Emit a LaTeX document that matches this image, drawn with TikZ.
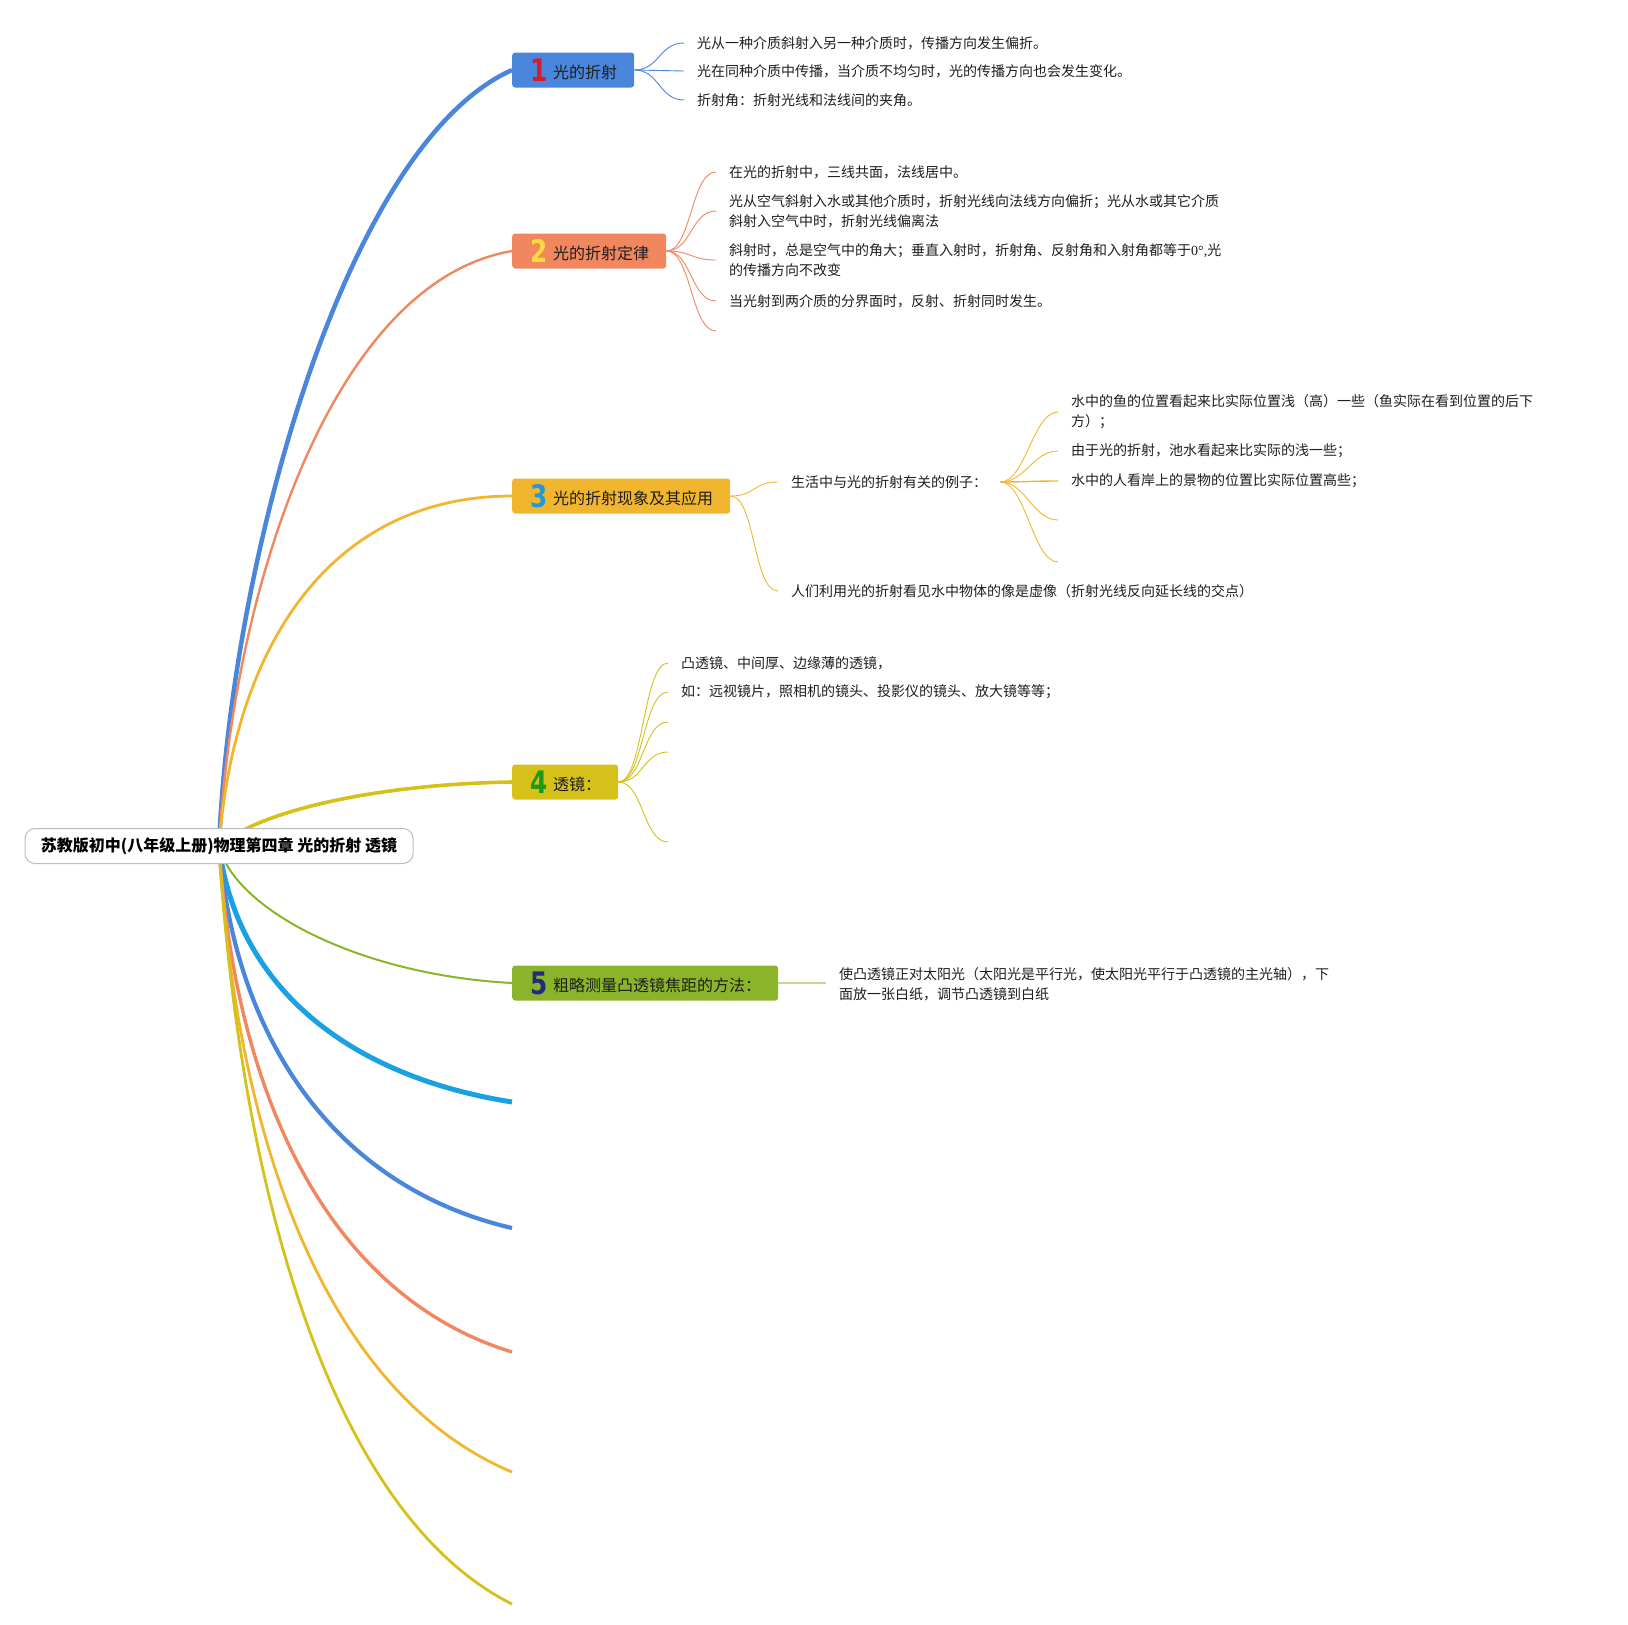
\documentclass[tikz,border=0pt]{standalone}
\usepackage{fontspec}
\setmainfont{Noto Sans CJK SC}
\newfontfamily\numfont{DejaVu Sans}[FakeStretch=0.8]
\newfontfamily\serifpart{Liberation Serif}
\usetikzlibrary{backgrounds}
\definecolor{cBlue}{HTML}{4A86DC}
\definecolor{cSalmon}{HTML}{F0875F}
\definecolor{cOrange}{HTML}{F2B52E}
\definecolor{cOlive}{HTML}{D5C11A}
\definecolor{cGreen}{HTML}{8AB42A}
\definecolor{cCyan}{HTML}{1AA1E2}
\definecolor{cLightGreen}{HTML}{C2D996}
\definecolor{nRed}{HTML}{D81B2C}
\definecolor{nYellow}{HTML}{F7DA3E}
\definecolor{nBlue}{HTML}{2299D8}
\definecolor{nGreen}{HTML}{1A9A1A}
\definecolor{nNavy}{HTML}{232C7A}
\definecolor{txt}{HTML}{1E1E1E}
\definecolor{rootline}{HTML}{BDBDBD}
% number + label inside a main box
\newcommand\boxlabel[3]{\makebox[41pt][l]{\hspace{18pt}\textcolor{#1}{\numfont\bfseries\fontsize{31}{31}\selectfont #2}}\raisebox{3pt}{#3}\kern17pt\relax}
\tikzset{
  mainbox/.style={rectangle, rounded corners=3pt, inner xsep=0pt, inner ysep=0pt,
    text height=25pt, text depth=2pt,
    minimum height=35pt, anchor=west, font=\fontsize{16}{16}\selectfont, text=txt},
  leaf/.style={anchor=west, inner xsep=13pt, inner ysep=2pt, align=left,
    font=\fontsize{14}{20}\selectfont, text=txt},
  rootbox/.style={rectangle, draw=rootline, fill=white, rounded corners=10pt, line width=1pt,
    minimum width=388pt, minimum height=35pt, inner sep=0pt,
    font=\bfseries\fontsize{16}{16}\selectfont, text=black},
  fan/.style={draw=#1, line width=0.9pt},
  trunk/.style={draw=#1}
}
\begin{document}
\begin{tikzpicture}[x=1pt,y=-1pt]
\useasboundingbox (0,0) rectangle (1628,1625);

% root
\node[rootbox] (root) at (219,846) {苏教版初中(八年级上册)物理第四章 光的折射 透镜};

% main boxes
\node[mainbox, fill=cBlue]   (b1) at (512,70)  {\boxlabel{nRed}{1}{光的折射}};
\node[mainbox, fill=cSalmon] (b2) at (512,251) {\boxlabel{nYellow}{2}{光的折射定律}};
\node[mainbox, fill=cOrange] (b3) at (512,496) {\boxlabel{nBlue}{3}{光的折射现象及其应用}};
\node[mainbox, fill=cOlive]  (b4) at (512,782) {\boxlabel{nGreen}{4}{透镜：}};
\node[mainbox, fill=cGreen]  (b5) at (512,983) {\boxlabel{nNavy}{5}{粗略测量凸透镜焦距的方法：}};

% empty branch ends
\coordinate (e6)  at (512,1102);
\coordinate (e7)  at (512,1228);
\coordinate (e8)  at (512,1352);
\coordinate (e9)  at (512,1472);
\coordinate (e10) at (512,1604);

% trunks
\begin{pgfonlayer}{background}
\draw[trunk=cBlue, line width=4.5pt]    (root.center) .. controls (231,560) and (345,145) .. (b1.west);
\draw[trunk=cSalmon, line width=2.4pt]  (root.center) .. controls (234,578) and (336,281) .. (b2.west);
\draw[trunk=cOrange, line width=2.8pt]  (root.center) .. controls (235,636) and (337,496) .. (b3.west);
\draw[trunk=cOlive, line width=3.6pt]   (root.center) .. controls (260,810) and (380,784) .. (b4.west);
\draw[trunk=cGreen, line width=2pt]     (root.center) .. controls (235,910) and (360,975) .. (b5.west);
\draw[trunk=cCyan, line width=5pt]      (root.center) .. controls (237,987) and (348,1076) .. (e6);
\draw[trunk=cBlue, line width=4.2pt]    (root.center) .. controls (237,1056) and (348,1190) .. (e7);
\draw[trunk=cSalmon, line width=3.4pt]  (root.center) .. controls (237,1124) and (345,1301) .. (e8);
\draw[trunk=cOrange, line width=2.8pt]  (root.center) .. controls (238,1170) and (340,1400) .. (e9);
\draw[trunk=cOlive, line width=2.8pt]   (root.center) .. controls (240,1187) and (330,1513) .. (e10);
\end{pgfonlayer}

% branch 1 children
\node[leaf] (c11) at (684,43)  {光从一种介质斜射入另一种介质时，传播方向发生偏折。};
\node[leaf] (c12) at (684,71)  {光在同种介质中传播，当介质不均匀时，光的传播方向也会发生变化。};
\node[leaf] (c13) at (684,100) {折射角：折射光线和法线间的夹角。};
\foreach \c in {c11,c12,c13}
  \draw[fan=cBlue] (b1.east) .. controls +(25,0) and +(-25,0) .. (\c.west);

% branch 2 children
\node[leaf] (c21) at (716,172) {在光的折射中，三线共面，法线居中。};
\node[leaf] (c22) at (716,211) {光从空气斜射入水或其他介质时，折射光线向法线方向偏折；光从水或其它介质\\斜射入空气中时，折射光线偏离法};
\node[leaf] (c23) at (716,260) {斜射时，总是空气中的角大；垂直入射时，折射角、反射角和入射角都等于{\serifpart 0°,}光\\的传播方向不改变};
\node[leaf] (c24) at (716,301) {当光射到两介质的分界面时，反射、折射同时发生。};
\coordinate (c25) at (716,331);
\foreach \c in {c21,c22,c23,c24}
  \draw[fan=cSalmon] (b2.east) .. controls +(25,0) and +(-25,0) .. (\c.west);
\draw[fan=cSalmon] (b2.east) .. controls +(25,0) and +(-25,0) .. (c25);

% branch 3 children
\node[leaf] (c31) at (778,482) {生活中与光的折射有关的例子：};
\node[leaf] (c32) at (778,591) {人们利用光的折射看见水中物体的像是虚像（折射光线反向延长线的交点）};
\foreach \c in {c31,c32}
  \draw[fan=cOrange] (b3.east) .. controls +(25,0) and +(-25,0) .. (\c.west);

\node[leaf] (c311) at (1058,412) {水中的鱼的位置看起来比实际位置浅（高）一些（鱼实际在看到位置的后下\\方）；};
\node[leaf] (c312) at (1058,451) {由于光的折射，池水看起来比实际的浅一些；};
\node[leaf] (c313) at (1058,481) {水中的人看岸上的景物的位置比实际位置高些；};
\coordinate (c314) at (1058,520);
\coordinate (c315) at (1058,562);
\foreach \c in {c311,c312}
  \draw[fan=cOrange] (c31.east) .. controls +(25,0) and +(-25,0) .. (\c.west);
\draw[fan=cOrange, line width=1.4pt] (c31.east) .. controls +(25,0) and +(-25,0) .. (c313.west);
\foreach \c in {c314,c315}
  \draw[fan=cOrange] (c31.east) .. controls +(25,0) and +(-25,0) .. (\c);

% branch 4 children
\node[leaf] (c41) at (668,663) {凸透镜、中间厚、边缘薄的透镜，};
\node[leaf] (c42) at (668,692) {如：远视镜片，照相机的镜头、投影仪的镜头、放大镜等等；};
\coordinate (c43) at (668,722);
\coordinate (c44) at (668,752);
\coordinate (c45) at (668,842);
\foreach \c in {c41,c42}
  \draw[fan=cOlive] (b4.east) .. controls +(25,0) and +(-25,0) .. (\c.west);
\foreach \c in {c43,c44,c45}
  \draw[fan=cOlive] (b4.east) .. controls +(25,0) and +(-25,0) .. (\c);

% branch 5 child
\node[leaf] (c51) at (826,984) {使凸透镜正对太阳光（太阳光是平行光，使太阳光平行于凸透镜的主光轴），下\\面放一张白纸，调节凸透镜到白纸};
\draw[draw=cLightGreen, line width=1.5pt] (b5.east) -- (b5.east -| c51.west);
\end{tikzpicture}
\end{document}
